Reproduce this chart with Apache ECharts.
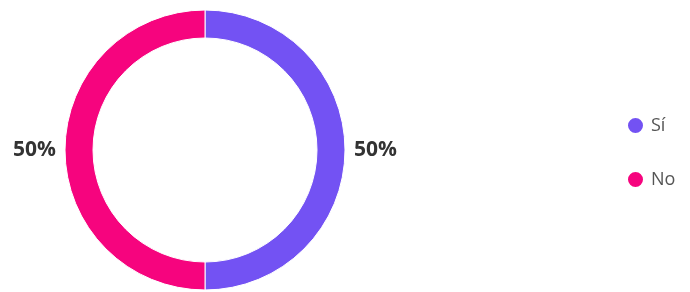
<!DOCTYPE html>
<html>
<head>
<meta charset="utf-8">
<script src="https://cdn.jsdelivr.net/npm/echarts@6/dist/echarts.min.js"></script>
<style>
  html, body { margin: 0; padding: 0; background: #fff; }
  #chart { width: 690px; height: 292px; }
</style>
</head>
<body>
<div id="chart"></div>
<script>
// respuestas
const categories = ['Sí', 'No'];
const values = [50, 50];
const colors = ['#7352f3', '#f6047e'];

const chart = echarts.init(document.getElementById('chart'));

const options = {
  animation: false,
  color: colors,
  legend: {
    orient: 'vertical',
    left: 621,
    top: 111,
    icon: 'circle',
    itemWidth: 17,
    itemHeight: 17,
    itemGap: 35,
    textStyle: { fontSize: 18, color: '#555', fontFamily: 'Open Sans', padding: [0, 0, 0, 2] },
    data: categories
  },
  series: [
    {
      type: 'pie',
      center: [205, 150],
      radius: [112, 140],
      startAngle: 90,
      itemStyle: { borderColor: '#fff', borderWidth: 1 },
      label: {
        show: true,
        position: 'outside',
        formatter: '{d}%',
        fontSize: 21,
        fontWeight: 'bold',
        color: '#333',
        fontFamily: 'Open Sans'
      },
      labelLine: { show: false, length: 4, length2: 0 },
      emphasis: { scale: false },
      data: categories.map((name, i) => ({ name, value: values[i] }))
    }
  ]
};

chart.setOption(options);
</script>
</body>
</html>
